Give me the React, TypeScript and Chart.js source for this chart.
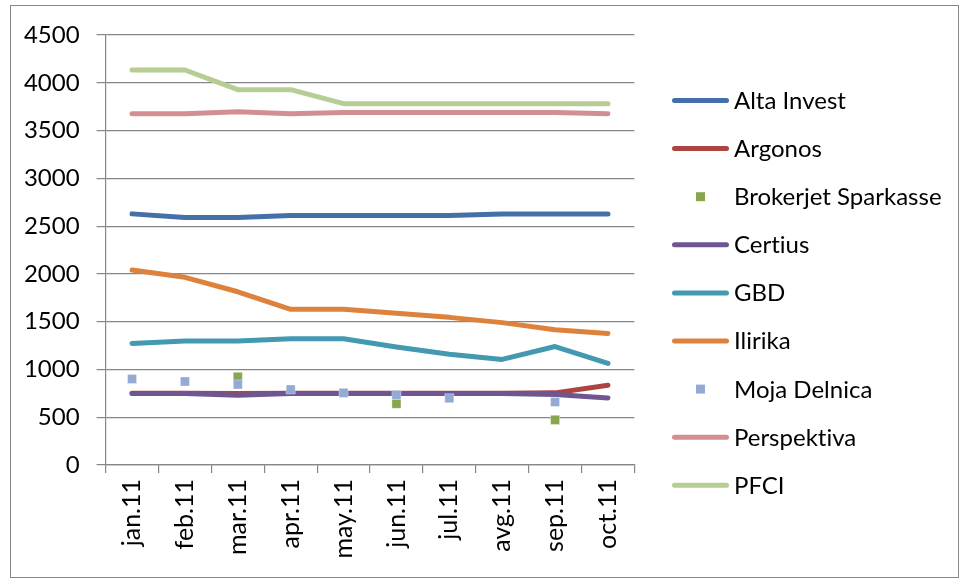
import React, { useEffect, useRef } from "react";
import { Chart, registerables } from "chart.js";

Chart.register(...registerables);

const CATEGORIES = ["jan.11", "feb.11", "mar.11", "apr.11", "may.11", "jun.11", "jul.11", "avg.11", "sep.11", "oct.11"];
const ALTA_INVEST = [2628, 2590, 2590, 2610, 2610, 2610, 2610, 2628, 2628, 2628];
const ARGONOS = [750, 750, 748, 750, 750, 750, 750, 750, 755, 835];
const BROKERJET_SPARKASSE = [null, null, 922, null, null, 640, null, null, 472, null];
const CERTIUS = [748, 748, 731, 748, 748, 748, 748, 748, 738, 702];
const GBD = [1272, 1297, 1297, 1321, 1321, 1235, 1160, 1105, 1240, 1063];
const ILIRIKA = [2041, 1964, 1813, 1629, 1629, 1587, 1545, 1490, 1415, 1377];
const MOJA_DELNICA = [901, 874, 843, 790, 755, 734, 699, null, 660, null];
const PERSPEKTIVA = [3676, 3676, 3697, 3676, 3690, 3690, 3690, 3690, 3690, 3676];
const PFCI = [4134, 4134, 3928, 3928, 3781, 3781, 3781, 3781, 3781, 3781];

const Y_MIN = 0;
const Y_MAX = 4500;
const Y_STEP = 500;

const SERIES = [
  { label: "Alta Invest", data: ALTA_INVEST, color: "#4470A8", marker: false },
  { label: "Argonos", data: ARGONOS, color: "#AC4542", marker: false },
  { label: "Brokerjet Sparkasse", data: BROKERJET_SPARKASSE, color: "#88A64D", marker: true },
  { label: "Certius", data: CERTIUS, color: "#6E5692", marker: false },
  { label: "GBD", data: GBD, color: "#4299B0", marker: false },
  { label: "Ilirika", data: ILIRIKA, color: "#DD823C", marker: false },
  { label: "Moja Delnica", data: MOJA_DELNICA, color: "#93AAD5", marker: true },
  { label: "Perspektiva", data: PERSPEKTIVA, color: "#D38F8F", marker: false },
  { label: "PFCI", data: PFCI, color: "#B6CD94", marker: false },
];

const FONT = "Lato, 'Open Sans', sans-serif";

const legendPlugin = {
  id: "excelLegend",
  afterDraw(chart: any) {
    const ctx = chart.ctx;
    const x0 = 672;
    const x1 = 729;
    const tx = 734;
    const y0 = 100.5;
    const dy = 48.1;
    const size = 24;
    ctx.save();
    ctx.font = `${size}px ${FONT}`;
    try {
      (ctx as any).textRendering = "optimizeSpeed";
    } catch (e) {
      /* ignore */
    }
    ctx.textBaseline = "alphabetic";
    ctx.textAlign = "left";
    SERIES.forEach((s, i) => {
      const y = y0 + i * dy;
      if (s.marker) {
        ctx.fillStyle = s.color;
        ctx.fillRect(x0 + 24, y - 4.5, 9, 9);
      } else {
        ctx.strokeStyle = s.color;
        ctx.lineWidth = 5;
        ctx.lineCap = "round";
        ctx.beginPath();
        ctx.moveTo(x0 + 2.5, y);
        ctx.lineTo(x1 - 2.5, y);
        ctx.stroke();
      }
      ctx.fillStyle = "#000";
      ctx.fillText(s.label, tx, y + size * 0.35);
    });
    ctx.restore();
  },
};

export default function App() {
  const ref = useRef<HTMLCanvasElement | null>(null);

  useEffect(() => {
    if (!ref.current) return;
    const datasets = SERIES.map((s, i) => ({
      label: s.label,
      data: s.data,
      borderColor: s.color,
      backgroundColor: s.color,
      borderWidth: 5,
      borderCapStyle: "round" as const,
      borderJoinStyle: "round" as const,
      showLine: !s.marker,
      pointStyle: "rect" as const,
      pointRadius: s.marker ? 6.4 : 0,
      pointBorderWidth: s.marker ? 1 : 0,
      pointBorderColor: s.marker ? "rgba(255,255,255,0.35)" : s.color,
      pointHoverRadius: s.marker ? 6.4 : 0,
      tension: 0,
      spanGaps: false,
      order: -i,
    }));

    const chart = new Chart(ref.current, {
      type: "line",
      data: { labels: CATEGORIES, datasets },
      plugins: [legendPlugin],
      options: {
        animation: false,
        responsive: false,
        devicePixelRatio: 1,
        events: [],
        layout: { padding: { left: 0, top: 35, right: 327.6, bottom: 14 } },
        plugins: { legend: { display: false }, tooltip: { enabled: false } },
        scales: {
          x: {
            type: "category",
            offset: true,
            grid: {
              offset: true,
              drawOnChartArea: false,
              drawTicks: true,
              tickLength: 8,
              color: "#868686",
              lineWidth: 1.2,
            },
            border: { display: true, color: "#868686", width: 1.2 },
            ticks: {
              autoSkip: false,
              minRotation: 90,
              maxRotation: 90,
              padding: 6,
              color: "#000",
              font: { family: FONT, size: 25 },
            },
            afterFit: (scale: any) => {
              scale.height = 100;
            },
          },
          y: {
            type: "linear",
            min: Y_MIN,
            max: Y_MAX,
            ticks: {
              stepSize: Y_STEP,
              padding: 17,
              color: "#000",
              font: { family: FONT, size: 24 },
              callback: (v: any) => String(v),
            },
            grid: {
              drawTicks: true,
              tickLength: 9,
              color: "#868686",
              lineWidth: 1.2,
            },
            border: { display: true, color: "#868686", width: 1.2 },
            afterFit: (scale: any) => {
              scale.width = 105.6;
            },
          },
        },
      },
    });
    return () => chart.destroy();
  }, []);

  return (
    <div style={{ position: "absolute", left: 0, top: 0, width: 962, height: 579, background: "#fff" }}>
      <div
        style={{
          position: "absolute",
          left: 10,
          top: 5,
          width: 949,
          height: 573,
          border: "1px solid #868686",
          boxSizing: "border-box",
        }}
      />
      <canvas
        ref={ref}
        width={962}
        height={579}
        style={{ position: "absolute", left: 0, top: 0, width: 962, height: 579 }}
      />
    </div>
  );
}
